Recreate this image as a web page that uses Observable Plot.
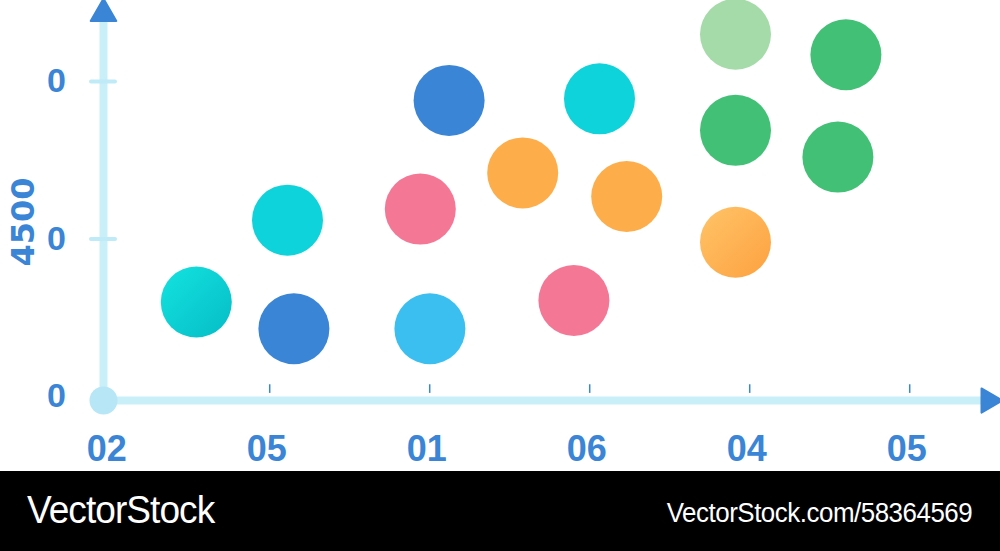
<!DOCTYPE html>
<html>
<head>
<meta charset="utf-8">
<script src="https://cdn.jsdelivr.net/npm/d3@7"></script>
<script src="https://cdn.jsdelivr.net/npm/@observablehq/plot@0.6"></script>
<style>
  html, body { margin: 0; padding: 0; background: #fff; width: 1000px; height: 551px; overflow: hidden; }
  #chart svg { display: block; }
  #footer { width: 1000px; height: 80px; background: #000; color: #fff; position: relative;
    font-family: "Liberation Sans Narrow", "Liberation Sans", sans-serif; }
  #footer .l { position: absolute; left: 27px; top: 17px; font-size: 39px; letter-spacing: -1px;
    transform: scaleX(0.95); transform-origin: left center; white-space: nowrap; }
  #footer .r { position: absolute; right: 28px; top: 27px; font-size: 27px; letter-spacing: -0.5px;
    transform: scaleX(0.96); transform-origin: right center; white-space: nowrap; }
</style>
</head>
<body>
<div id="chart"></div>
<div id="footer"><span class="l">VectorStock</span><span class="r">VectorStock.com/58364569</span></div>
<script>
// ---- data ----
const xTickLabels = ["02", "05", "01", "06", "04", "05"];
const yTickLabels = ["0", "0", "0"];
const yTitle = "4500";
const pointX = [0.56, 1.13, 1.17, 1.96, 2.14, 2.02, 2.60, 2.92, 3.08, 3.25, 3.93, 3.93, 3.93, 4.62, 4.57];
const pointY = [0.60, 1.12, 0.43, 1.19, 1.88, 0.43, 1.42, 0.61, 1.89, 1.27, 2.30, 1.69, 0.98, 2.17, 1.52];
const pointGroup = ["teal", "cyan", "blue", "pink", "blue", "sky", "orange", "pink", "cyan", "orange",
                    "mint", "green", "amber", "green", "green"];
const groupNames = ["teal", "cyan", "blue", "pink", "sky", "orange", "mint", "green", "amber"];
const groupColors = ["url(#gTeal)", "#0fd3da", "#3a85d6", "#f47896", "#3bbff1", "#fdae4a", "#a5dba9", "#42c176", "url(#gAmber)"];

const points = pointX.map((x, i) => ({x, y: pointY[i], group: pointGroup[i]}));
const colorOf = new Map(groupNames.map((g, i) => [g, groupColors[i]]));
const xTicks = xTickLabels.map((_, i) => i);
const yTicks = yTickLabels.map((_, i) => i);

const xMin = -0.02, xMax = 5.48, yMin = -0.025, yMax = 2.4;
const axisBlue = "#3a85d6";
const axisLight = "#c9eff9";

const svg = Plot.plot({
  width: 1000,
  height: 471,
  margin: 0,
  x: {domain: [xMin, xMax], range: [103, 983], axis: null},
  y: {domain: [yMin, yMax], range: [400, 18], axis: null},
  color: {type: "identity"},
  marks: [
    // axis lines
    Plot.ruleY([yMin], {x1: xMin, x2: xMax, stroke: axisLight, strokeWidth: 8}),
    Plot.ruleX([xMin], {y1: yMin, y2: yMax, stroke: axisLight, strokeWidth: 8}),
    // y minor ticks
    Plot.ruleY(yTicks.slice(1), {x1: xMin - 0.075, x2: xMin + 0.075, stroke: "#bfeaf7", strokeWidth: 4, strokeLinecap: "round"}),
    // x ticks
    Plot.ruleX(xTicks.slice(1), {y1: yMin + 0.045, y2: yMin + 0.1, dx: 3, stroke: axisBlue, strokeWidth: 1.5}),
    // origin
    Plot.dot([0], {x: () => xMin, y: () => yMin, r: 14, fill: "#b7e6f6"}),
    // arrow heads
    Plot.dot([0], {x: () => xMin, y: () => yMax, dy: -5, symbol: "triangle", r: 9.5, fill: axisBlue, stroke: axisBlue, strokeWidth: 2, strokeLinejoin: "round"}),
    Plot.dot([0], {x: () => xMax, y: () => yMin, dx: 5, symbol: "triangle", rotate: 90, r: 9, fill: axisBlue, stroke: axisBlue, strokeWidth: 2, strokeLinejoin: "round"}),
    // tick labels
    Plot.text(xTickLabels, {x: (d, i) => i, y: () => yMin, dy: 49, text: d => d, fontSize: 36, fontWeight: "bold",
      fontFamily: "Liberation Sans, Arial, sans-serif", fill: axisBlue}),
    Plot.text(yTickLabels, {x: () => xMin, y: (d, i) => i, dx: -47, text: d => d, fontSize: 34, fontWeight: "bold",
      fontFamily: "Liberation Sans, Arial, sans-serif", fill: axisBlue}),
    Plot.text([yTitle], {x: () => xMin, y: () => (yTicks[0] + yTicks[yTicks.length - 1]) / 2, dx: -80, dy: -17, rotate: -90,
      text: d => d, fontSize: 32, fontWeight: "bold", fontFamily: "DejaVu Sans, sans-serif", fill: axisBlue}),
    // bubbles
    Plot.dot(points, {x: "x", y: "y", r: 35.5, fill: d => colorOf.get(d.group)})
  ]
});

// gradients
const defs = d3.select(svg).insert("defs", ":first-child");
const g1 = defs.append("linearGradient").attr("id", "gTeal").attr("x1", "0").attr("y1", "0").attr("x2", "1").attr("y2", "1");
g1.append("stop").attr("offset", "0").attr("stop-color", "#14e3e0");
g1.append("stop").attr("offset", "1").attr("stop-color", "#05bcc6");
const g2 = defs.append("linearGradient").attr("id", "gAmber").attr("x1", "0").attr("y1", "0").attr("x2", "1").attr("y2", "1");
g2.append("stop").attr("offset", "0").attr("stop-color", "#ffc468");
g2.append("stop").attr("offset", "1").attr("stop-color", "#fda140");

document.getElementById("chart").appendChild(svg);
</script>
</body>
</html>
